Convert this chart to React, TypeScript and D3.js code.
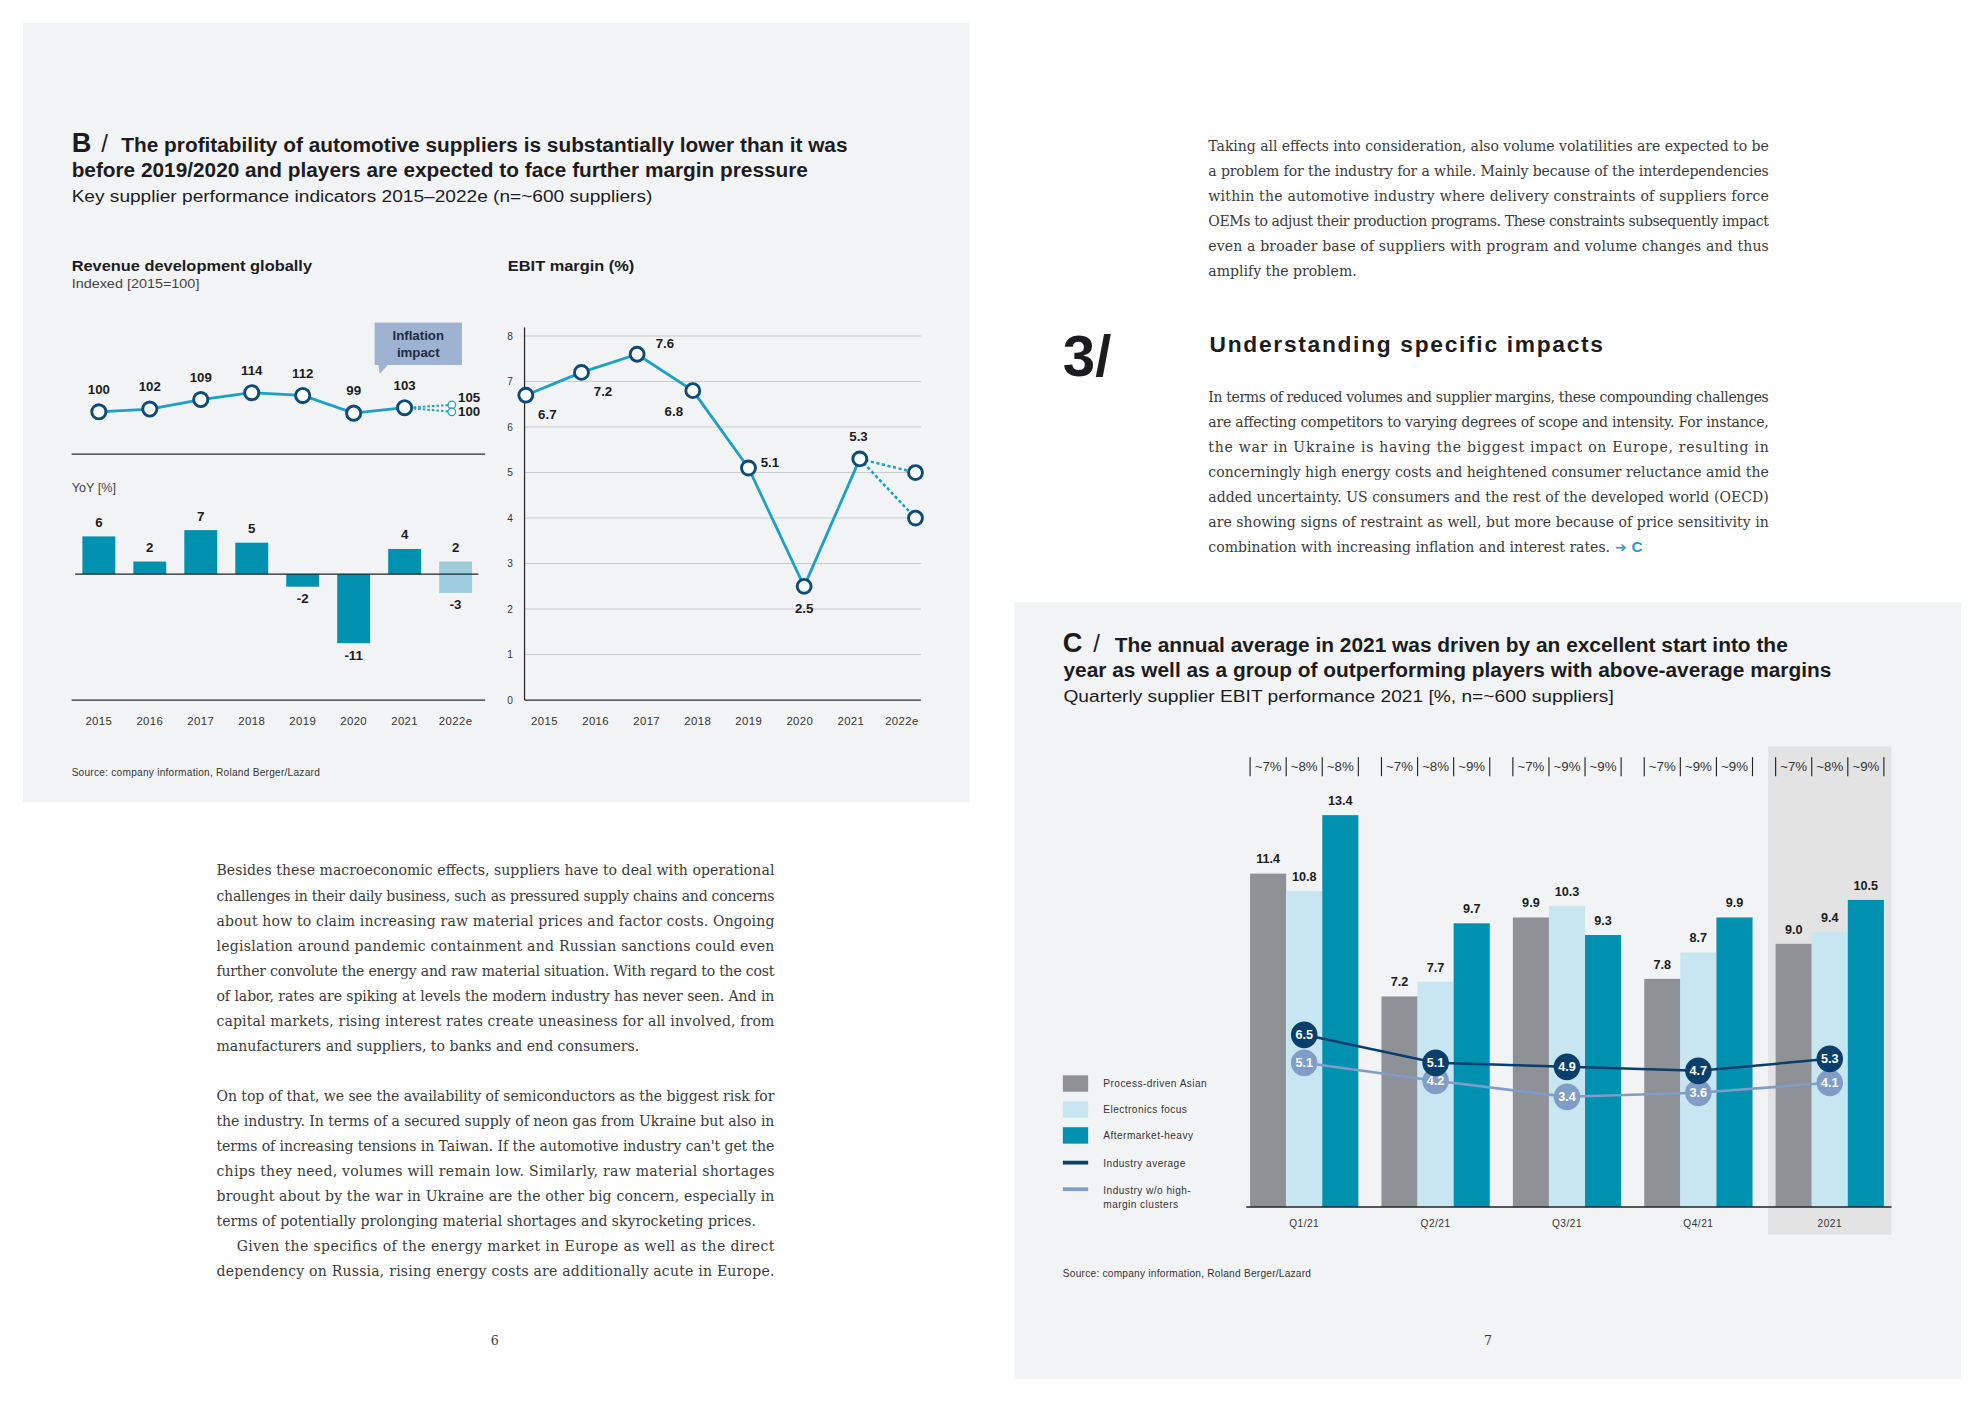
import * as d3 from 'd3';

// Page is laid out in a 1568x1109 design space and scaled up to the 1984x1403 window.
const W = 1568;
const H = 1109;

const SANS = "'Liberation Sans', Arial, Helvetica, sans-serif";
const SERIF = "'DejaVu Serif', 'Liberation Serif', serif";
const INK = '#1c1c1e';
const BODY = '#3a3a3a';
const PANEL = '#f2f3f5';
const TEAL = '#0091b0';
const TEAL_LIGHT = '#9dcddc';
const LINE_TEAL = '#1ba0c6';
const NAVY = '#0c4b79';

// ---- Exhibit B data ----
const years = ['2015', '2016', '2017', '2018', '2019', '2020', '2021', '2022e'];
const revenueIndex = [100, 102, 109, 114, 112, 99, 103];
const revenueOutlook = [105, 100];
const yoyGrowth = [6, 2, 7, 5, -2, -11, 4];
const yoyOutlook = [2, -3];
const ebitMargin = [6.7, 7.2, 7.6, 6.8, 5.1, 2.5, 5.3];
const ebitOutlook = [5.0, 4.0];
const ebitTicks = [0, 1, 2, 3, 4, 5, 6, 7, 8];
// where each EBIT value label sits relative to its marker
const ebitLabelNudge: [number, number][] = [[17, 19], [17, 19], [22, -5], [-15, 20], [17, -1], [0, 21], [-1, -14]];

// ---- Exhibit C data ----
const periods = ['Q1/21', 'Q2/21', 'Q3/21', 'Q4/21', '2021'];
const clusters = ['Process-driven Asian', 'Electronics focus', 'Aftermarket-heavy'];
const processAsian = [11.4, 7.2, 9.9, 7.8, 9.0];
const electronicsFocus = [10.8, 7.7, 10.3, 8.7, 9.4];
const aftermarketHeavy = [13.4, 9.7, 9.3, 9.9, 10.5];
const industryAverage = [6.5, 5.1, 4.9, 4.7, 5.3];
const industryExHighMargin = [5.1, 4.2, 3.4, 3.6, 4.1];
const clusterShares = [
  ['~7%', '~8%', '~8%'],
  ['~7%', '~8%', '~9%'],
  ['~7%', '~9%', '~9%'],
  ['~7%', '~9%', '~9%'],
  ['~7%', '~8%', '~9%'],
];
const clusterColors = ['#8e9297', '#c8e6f1', TEAL];

// ---- body copy ----
const volatilityParagraph = [
  'Taking all effects into consideration, also volume volatilities are expected to be',
  'a problem for the industry for a while. Mainly because of the interdependencies',
  'within the automotive industry where delivery constraints of suppliers force',
  'OEMs to adjust their production programs. These constraints subsequently impact',
  'even a broader base of suppliers with program and volume changes and thus',
  'amplify the problem.',
];
const impactsParagraph = [
  'In terms of reduced volumes and supplier margins, these compounding challenges',
  'are affecting competitors to varying degrees of scope and intensity. For instance,',
  'the war in Ukraine is having the biggest impact on Europe, resulting in',
  'concerningly high energy costs and heightened consumer reluctance amid the',
  'added uncertainty. US consumers and the rest of the developed world (OECD)',
  'are showing signs of restraint as well, but more because of price sensitivity in',
  'combination with increasing inflation and interest rates.',
];
const besidesParagraph = [
  'Besides these macroeconomic effects, suppliers have to deal with operational',
  'challenges in their daily business, such as pressured supply chains and concerns',
  'about how to claim increasing raw material prices and factor costs. Ongoing',
  'legislation around pandemic containment and Russian sanctions could even',
  'further convolute the energy and raw material situation. With regard to the cost',
  'of labor, rates are spiking at levels the modern industry has never seen. And in',
  'capital markets, rising interest rates create uneasiness for all involved, from',
  'manufacturers and suppliers, to banks and end consumers.',
];
const semiconductorParagraph = [
  'On top of that, we see the availability of semiconductors as the biggest risk for',
  'the industry. In terms of a secured supply of neon gas from Ukraine but also in',
  "terms of increasing tensions in Taiwan. If the automotive industry can't get the",
  'chips they need, volumes will remain low. Similarly, raw material shortages',
  'brought about by the war in Ukraine are the other big concern, especially in',
  'terms of potentially prolonging material shortages and skyrocketing prices.',
];
const energyParagraph = [
  'Given the specifics of the energy market in Europe as well as the direct',
  'dependency on Russia, rising energy costs are additionally acute in Europe.',
];

const LEAD = 19.8;

function Paragraph({ lines, x, y, width, justifyLast = false, indent = 0, tail }: {
  lines: string[]; x: number; y: number; width: number; justifyLast?: boolean; indent?: number; tail?: React.ReactNode;
}) {
  return (
    <g fontFamily={SERIF} fontSize={11.1} fill={BODY}>
      {lines.map((t, i) => {
        const last = i === lines.length - 1;
        const dx = i === 0 ? indent : 0;
        const justify = !last || justifyLast;
        return (
          <text key={i} x={x + dx} y={y + i * LEAD}
            textLength={justify ? width - dx : undefined}
            lengthAdjust={justify ? 'spacing' : undefined}>
            {t}
            {last && tail}
          </text>
        );
      })}
    </g>
  );
}

function RevenueChart() {
  const x = d3.scalePoint<string>().domain(years).range([78, 360]);
  const yIndex = d3.scaleLinear().domain([100, 114]).range([325.5, 310.4]);
  const yYoy = d3.scaleLinear().domain([0, 6]).range([453.8, 424]);
  const hist = years.slice(0, 7);
  const last = years[7];
  const line = d3.line<number>().x((_, i) => x(hist[i])!).y(d => yIndex(d));
  const x21 = x('2021')!;
  const xOut = x(last)! - 3;
  const barW = 26;

  return (
    <g fontFamily={SANS}>
      <text x={56.5} y={214} fontSize={11} fontWeight="bold" fill={INK} textLength={190} lengthAdjust="spacingAndGlyphs">Revenue development globally</text>
      <text x={56.5} y={227.5} fontSize={10} fill="#444" textLength={101} lengthAdjust="spacingAndGlyphs">Indexed [2015=100]</text>

      {/* inflation call-out */}
      <rect x={296} y={255} width={69} height={33.5} fill="#9eb2d2" />
      <path d="M299,288 L307,288 L300,295.5 Z" fill="#9eb2d2" />
      <text x={330.5} y={269} fontSize={10.5} fontWeight="bold" fill="#1f2b44" textAnchor="middle">Inflation</text>
      <text x={330.5} y={282} fontSize={10.5} fontWeight="bold" fill="#1f2b44" textAnchor="middle">impact</text>

      {revenueOutlook.map((v, i) => (
        <line key={i} x1={x21} y1={yIndex(revenueIndex[6])} x2={xOut} y2={yIndex(v)}
          stroke={LINE_TEAL} strokeWidth={1.6} strokeDasharray="2 1.6" />
      ))}
      <path d={line(revenueIndex) ?? ''} fill="none" stroke={LINE_TEAL} strokeWidth={2.2} />
      {revenueIndex.map((v, i) => (
        <g key={i}>
          <circle cx={x(hist[i])} cy={yIndex(v)} r={5.6} fill="#fff" stroke={NAVY} strokeWidth={2.3} />
          <text x={x(hist[i])} y={yIndex(v) - 14} fontSize={10.5} fontWeight="bold" fill={INK} textAnchor="middle">{v}</text>
        </g>
      ))}
      {revenueOutlook.map((v, i) => (
        <g key={i}>
          <circle cx={xOut} cy={yIndex(v)} r={3} fill="#fff" stroke={LINE_TEAL} strokeWidth={1} />
          <text x={xOut + 5} y={yIndex(v) + (i === 0 ? -2 : 3.5)} fontSize={10.5} fontWeight="bold" fill={INK}>{v}</text>
        </g>
      ))}

      <line x1={56.5} x2={383.4} y1={359} y2={359} stroke="#2a2a2a" strokeWidth={1} />
      <text x={56.5} y={389} fontSize={10} fill="#444">YoY [%]</text>

      {yoyGrowth.map((v, i) => {
        const cx = x(hist[i])!;
        const y0 = yYoy(Math.max(0, v));
        const y1 = yYoy(Math.min(0, v));
        return (
          <g key={i}>
            <rect x={cx - barW / 2} y={y0} width={barW} height={y1 - y0} fill={TEAL} />
            <text x={cx} y={v >= 0 ? y0 - 7.5 : y1 + 13} fontSize={10.5} fontWeight="bold" fill={INK} textAnchor="middle">{v}</text>
          </g>
        );
      })}
      {(() => {
        const cx = x(last)!;
        const top = yYoy(yoyOutlook[0]);
        const bottom = yYoy(yoyOutlook[1]);
        return (
          <g>
            <rect x={cx - barW / 2} y={top} width={barW} height={bottom - top} fill={TEAL_LIGHT} />
            <text x={cx} y={top - 7.5} fontSize={10.5} fontWeight="bold" fill={INK} textAnchor="middle">{yoyOutlook[0]}</text>
            <text x={cx} y={bottom + 13} fontSize={10.5} fontWeight="bold" fill={INK} textAnchor="middle">{yoyOutlook[1]}</text>
          </g>
        );
      })()}
      <line x1={59.3} x2={378} y1={yYoy(0)} y2={yYoy(0)} stroke="#222" strokeWidth={1} />

      <line x1={56.5} x2={383.4} y1={553.5} y2={553.5} stroke="#2a2a2a" strokeWidth={1} />
      {years.map(yr => (
        <text key={yr} x={x(yr)} y={573} fontSize={9} fill="#333" textAnchor="middle" letterSpacing={0.3}>{yr}</text>
      ))}
    </g>
  );
}

function EbitChart() {
  const xPt = d3.scalePoint<string>().domain(years).range([415.5, 723.5]);
  const xLab = d3.scalePoint<string>().domain(years).range([430.3, 712.8]);
  const y = d3.scaleLinear().domain([0, 8]).range([553.4, 265.6]);
  const hist = years.slice(0, 7);
  const last = years[7];
  const line = d3.line<number>().x((_, i) => xPt(hist[i])!).y(d => y(d));
  const left = 414.5;
  const right = 727.8;

  return (
    <g fontFamily={SANS}>
      <text x={401.3} y={214} fontSize={11} fontWeight="bold" fill={INK} textLength={100} lengthAdjust="spacingAndGlyphs">EBIT margin (%)</text>
      {ebitTicks.filter(t => t > 0).map(t => (
        <line key={t} x1={left} x2={right} y1={y(t)} y2={y(t)} stroke="#c8cacd" strokeWidth={0.8} />
      ))}
      {ebitTicks.map(t => (
        <text key={t} x={403} y={y(t) + 3} fontSize={8} fill="#333" textAnchor="middle">{t}</text>
      ))}
      <line x1={left} x2={left} y1={258.8} y2={y(0)} stroke="#2a2a2a" strokeWidth={1} />
      <line x1={left} x2={right} y1={y(0)} y2={y(0)} stroke="#2a2a2a" strokeWidth={1} />

      {ebitOutlook.map((v, i) => (
        <line key={i} x1={xPt('2021')} y1={y(ebitMargin[6])} x2={xPt(last)} y2={y(v)}
          stroke={LINE_TEAL} strokeWidth={2} strokeDasharray="2.5 2" />
      ))}
      <path d={line(ebitMargin) ?? ''} fill="none" stroke={LINE_TEAL} strokeWidth={2.2} />
      {ebitMargin.map((v, i) => (
        <g key={i}>
          <circle cx={xPt(hist[i])} cy={y(v)} r={5.5} fill="#fff" stroke={NAVY} strokeWidth={2.3} />
          <text x={xPt(hist[i])! + ebitLabelNudge[i][0]} y={y(v) + ebitLabelNudge[i][1]} fontSize={10.5}
            fontWeight="bold" fill={INK} textAnchor="middle">{v.toFixed(1)}</text>
        </g>
      ))}
      {ebitOutlook.map((v, i) => (
        <circle key={i} cx={xPt(last)} cy={y(v)} r={5.5} fill="#fff" stroke={NAVY} strokeWidth={2.3} />
      ))}
      {years.map(yr => (
        <text key={yr} x={xLab(yr)} y={573} fontSize={9} fill="#333" textAnchor="middle" letterSpacing={0.3}>{yr}</text>
      ))}
    </g>
  );
}

function QuarterlyChart() {
  const x0 = d3.scaleBand<string>().domain(periods).range([988, 1489]).paddingInner(0.176);
  const x1 = d3.scaleBand<string>().domain(clusters).range([0, x0.bandwidth()]);
  const y = d3.scaleLinear().domain([0, 14]).range([954, 954 - 14 * 23.11]);
  const yLine = d3.scaleLinear().domain([3.4, 6.5]).range([867, 818]);
  const series = [processAsian, electronicsFocus, aftermarketHeavy];
  const cx = (p: string) => x0(p)! + x0.bandwidth() / 2;
  const avgLine = d3.line<number>().x((_, i) => cx(periods[i])).y(d => yLine(d));
  const hl = x0('2021')!;

  const legend = [
    { kind: 'box', color: clusterColors[0], label: [clusters[0]], y: 850 },
    { kind: 'box', color: clusterColors[1], label: [clusters[1]], y: 870.5 },
    { kind: 'box', color: clusterColors[2], label: [clusters[2]], y: 891 },
    { kind: 'line', color: '#0a3f6b', label: ['Industry average'], y: 919 },
    { kind: 'line', color: '#7f9dc6', label: ['Industry w/o high-', 'margin clusters'], y: 940 },
  ];

  return (
    <g fontFamily={SANS}>
      <rect x={hl - 6} y={590} width={x0.bandwidth() + 12} height={386} fill="#e3e3e4" />

      {periods.map((p, gi) => (
        <g key={p}>
          {[0, 1, 2, 3].map(k => (
            <line key={k} x1={x0(p)! + (k * x0.bandwidth()) / 3} x2={x0(p)! + (k * x0.bandwidth()) / 3}
              y1={598.5} y2={613.5} stroke="#222" strokeWidth={0.9} />
          ))}
          {clusters.map((c, ci) => (
            <text key={c} x={x0(p)! + x1(c)! + x1.bandwidth() / 2} y={609.5} fontSize={10.5} fill="#333"
              textAnchor="middle">{clusterShares[gi][ci]}</text>
          ))}
        </g>
      ))}

      {periods.map((p, gi) => (
        <g key={p}>
          {clusters.map((c, ci) => {
            const v = series[ci][gi];
            const bx = x0(p)! + x1(c)!;
            return (
              <g key={c}>
                <rect x={bx} y={y(v)} width={x1.bandwidth()} height={y(0) - y(v)} fill={clusterColors[ci]} />
                <text x={bx + x1.bandwidth() / 2} y={y(v) - 8} fontSize={10} fontWeight="bold" fill={INK}
                  textAnchor="middle">{v.toFixed(1)}</text>
              </g>
            );
          })}
          <text x={cx(p)} y={969.7} fontSize={8} fill="#333" textAnchor="middle" letterSpacing={0.4}>{p}</text>
        </g>
      ))}
      <line x1={985} x2={1495} y1={y(0)} y2={y(0)} stroke="#222" strokeWidth={1.2} />

      <path d={avgLine(industryExHighMargin) ?? ''} fill="none" stroke="#7f9dc6" strokeWidth={2} />
      <path d={avgLine(industryAverage) ?? ''} fill="none" stroke="#0a3f6b" strokeWidth={2} />
      {[{ data: industryExHighMargin, color: '#7f9dc6' }, { data: industryAverage, color: '#0a3f6b' }].map(s =>
        s.data.map((v, i) => (
          <g key={s.color + i}>
            <circle cx={cx(periods[i])} cy={yLine(v)} r={10.5} fill={s.color} />
            <text x={cx(periods[i])} y={yLine(v) + 3.6} fontSize={10} fontWeight="bold" fill="#fff"
              textAnchor="middle">{v.toFixed(1)}</text>
          </g>
        ))
      )}

      {legend.map((l, i) => (
        <g key={i}>
          {l.kind === 'box'
            ? <rect x={840} y={l.y} width={20} height={13} fill={l.color} />
            : <rect x={840} y={l.y - 1.5} width={20} height={3} fill={l.color} />}
          {l.label.map((t, j) => (
            <text key={j} x={872} y={(l.kind === 'box' ? l.y + 9.5 : l.y + 3.5) + j * 11} fontSize={8}
              fill="#333" letterSpacing={0.35}>{t}</text>
          ))}
        </g>
      ))}
    </g>
  );
}

export default function App() {
  return (
    <svg width={1984} height={1403} viewBox={`0 0 ${W} ${H}`}
      style={{ position: 'absolute', left: 0, top: 0, background: '#fff' }}>
      <rect x={0} y={0} width={W} height={H} fill="#fff" />

      {/* Exhibit B */}
      <rect x={18} y={18} width={748} height={616} fill={PANEL} />
      <g fontFamily={SANS} fill={INK}>
        <text x={56.5} y={120} fontSize={21.5} fontWeight="bold">B</text>
        <text x={80} y={120} fontSize={19}>/</text>
        <text x={95.8} y={120} fontSize={16} fontWeight="bold" textLength={574} lengthAdjust="spacingAndGlyphs">
          The profitability of automotive suppliers is substantially lower than it was</text>
        <text x={56.5} y={140} fontSize={16} fontWeight="bold" textLength={582} lengthAdjust="spacingAndGlyphs">
          before 2019/2020 and players are expected to face further margin pressure</text>
        <text x={56.5} y={159.5} fontSize={12.5} textLength={459} lengthAdjust="spacingAndGlyphs">
          Key supplier performance indicators 2015–2022e (n=~600 suppliers)</text>
      </g>
      <RevenueChart />
      <EbitChart />
      <text x={56.5} y={613.5} fontFamily={SANS} fontSize={8} fill="#333" letterSpacing={0.2}>
        Source: company information, Roland Berger/Lazard</text>

      {/* right page copy */}
      <Paragraph lines={volatilityParagraph} x={955} y={119} width={443} />
      <text x={840} y={297} fontFamily={SANS} fontSize={46} fontWeight="bold" fill={INK}>3/</text>
      <text x={956} y={278} fontFamily={SANS} fontSize={18} fontWeight="bold" fill={INK} textLength={311}
        lengthAdjust="spacing">Understanding specific impacts</text>
      <Paragraph lines={impactsParagraph} x={955} y={317.5} width={443}
        tail={<>
          <tspan fill={LINE_TEAL} fontFamily="'DejaVu Sans', sans-serif" fontWeight="bold" fontSize={11}> ➔ </tspan>
          <tspan fill={LINE_TEAL} fontFamily={SANS} fontWeight="bold" fontSize={12}>C</tspan>
        </>} />

      {/* left page copy */}
      <Paragraph lines={besidesParagraph} x={171} y={692} width={441} />
      <Paragraph lines={semiconductorParagraph} x={171} y={692 + 9 * LEAD} width={441} />
      <Paragraph lines={energyParagraph} x={171} y={692 + 15 * LEAD} width={441} justifyLast indent={16} />

      <text x={391} y={1063} fontFamily={SERIF} fontSize={10} fill={BODY} textAnchor="middle">6</text>

      {/* Exhibit C */}
      <rect x={802} y={476} width={748} height={614} fill={PANEL} />
      <g fontFamily={SANS} fill={INK}>
        <text x={840} y={515} fontSize={21.5} fontWeight="bold">C</text>
        <text x={864} y={515} fontSize={19}>/</text>
        <text x={881} y={515} fontSize={16} fontWeight="bold" textLength={532} lengthAdjust="spacingAndGlyphs">
          The annual average in 2021 was driven by an excellent start into the</text>
        <text x={840.5} y={535} fontSize={16} fontWeight="bold" textLength={607} lengthAdjust="spacingAndGlyphs">
          year as well as a group of outperforming players with above-average margins</text>
        <text x={840.5} y={554.5} fontSize={12.5} textLength={435} lengthAdjust="spacingAndGlyphs">
          Quarterly supplier EBIT performance 2021 [%, n=~600 suppliers]</text>
      </g>
      <QuarterlyChart />
      <text x={840} y={1009.5} fontFamily={SANS} fontSize={8} fill="#333" letterSpacing={0.2}>
        Source: company information, Roland Berger/Lazard</text>

      <text x={1176} y={1063} fontFamily={SERIF} fontSize={10} fill={BODY} textAnchor="middle">7</text>
    </svg>
  );
}
